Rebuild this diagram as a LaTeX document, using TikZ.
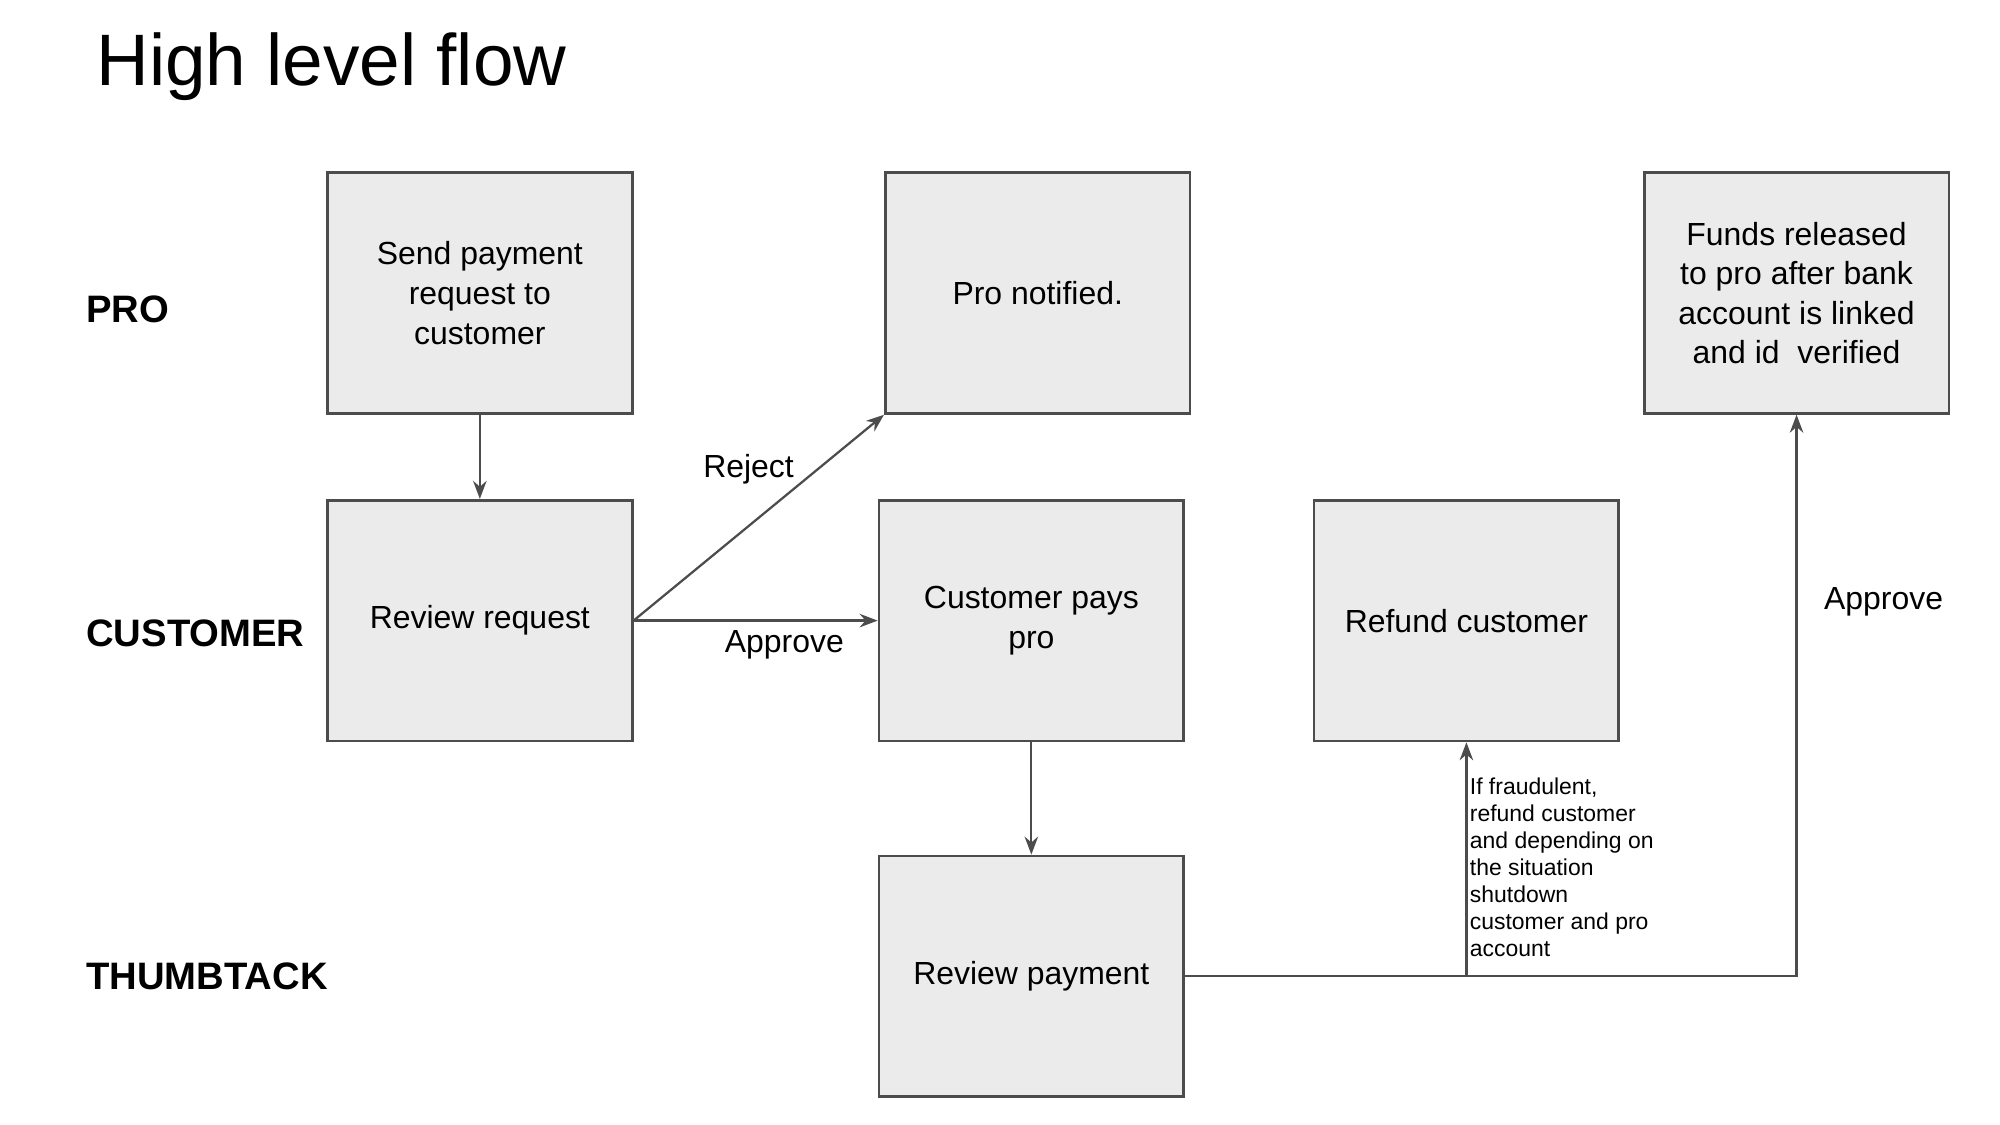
\documentclass[tikz,border=0pt]{standalone}
\usepackage{fontspec}
\setmainfont{Liberation Sans}
\usetikzlibrary{arrows.meta}
\begin{document}
\begin{tikzpicture}[x=0.01cm,y=-0.01cm,
 box/.style={draw=black!70,line width=0.6pt,fill=black!8,minimum width=2.38cm,minimum height=1.88cm,inner sep=0,align=center,font=\fontsize{7.1}{8.8}\selectfont},
 lane/.style={anchor=west,font=\fontsize{8.5}{10}\selectfont\bfseries},
 lab/.style={font=\fontsize{7.1}{8.8}\selectfont},
 arr/.style={draw=black!70,line width=0.5pt,-{Stealth[length=4pt,width=3pt]}}]
\useasboundingbox (0,0) rectangle (1563,879);
\node[anchor=west,font=\fontsize{16.2}{19}\selectfont] (t) at (63,52) {High level flow};
\node[lane] (l1) at (55,242) {PRO};
\node[lane] (l2) at (55,495) {CUSTOMER};
\node[lane] (l3) at (55,763) {THUMBTACK};
\node[box] (A) at (375,229) {Send payment\\request to\\customer};
\node[box] (B) at (811,229) {Pro notified.};
\node[box] (C) at (1404,229) {Funds released\\to pro after bank\\account is linked\\and id\ \ verified};
\node[box] (D) at (375,485) {Review request};
\node[box] (E) at (806,485) {Customer pays\\pro};
\node[box] (F) at (1146,485) {Refund customer};
\node[box] (G) at (806,763) {Review payment};
\draw[arr] (A) -- (D);
\draw[arr] (D.east) -- (B.south west);
\draw[arr] (D.east) -- (E.west);
\draw[arr] (E) -- (G);
\coordinate (j) at (1146,763);
\draw[arr] (G.east) -- (j) -- (F.south);
\draw[arr] (j) -| (C.south);
\node[lab] (r) at (585,367) {Reject};
\node[lab] (ap) at (613,504) {Approve};
\node[lab] (ap2) at (1472,470) {Approve};
\node[anchor=north west,align=left,inner sep=0,font=\fontsize{5.1}{6}\selectfont] (n) at (1148,607) {If fraudulent,\\refund customer\\and depending on\\the situation\\shutdown\\customer and pro\\account};
\end{tikzpicture}
\end{document}
